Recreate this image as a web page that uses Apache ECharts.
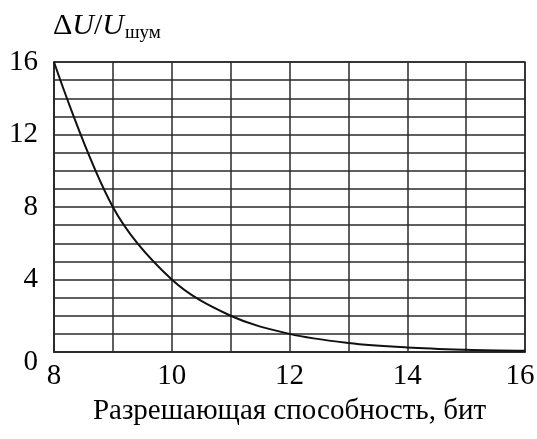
<!DOCTYPE html>
<html lang="ru">
<head>
    <meta charset="UTF-8">
    <title>Chart</title>
    <style>
        html, body { margin: 0; padding: 0; background: #fff; }
        #main { width: 537px; height: 439px; }
    </style>
</head>
<body>
<div id="main"></div>
<script src="https://cdn.jsdelivr.net/npm/echarts@6/dist/echarts.min.js"></script>
<script>
    // разрешающая способность, бит
    var bits = [8, 9, 10, 11, 12, 13, 14, 15, 16];
    // ΔU / U шум
    var ratio = [16, 8, 4, 2, 1, 0.5, 0.25, 0.125, 0.0625];
    var yLabels = [0, 4, 8, 12, 16];
    var xLabels = [8, 10, 12, 14, 16];

    var font = '"Liberation Serif", "Times New Roman", serif';
    var grid = '#2a2a2a';

    var data = bits.map(function (b, i) { return [b, ratio[i]]; });

    var chart = echarts.init(document.getElementById('main'));
    chart.setOption({
        animation: false,
        title: {
            left: 48,
            top: 5,
            text: '{a|Δ}{i|U}{a|/}{i|U}{s|шум}',
            textStyle: {
                fontWeight: 'normal',
                rich: {
                    a: {fontFamily: font, fontSize: 30, fontWeight: 'normal', color: '#000'},
                    i: {fontFamily: font, fontSize: 30, fontStyle: 'italic', fontWeight: 'normal', color: '#000'},
                    s: {fontFamily: font, fontSize: 19, fontWeight: 'normal', color: '#000', padding: [14, 0, 0, 1]}
                }
            }
        },
        grid: {
            left: 54,
            right: 12,
            top: 62,
            bottom: 87,
            outerBoundsMode: 'none',
            show: true,
            borderColor: grid,
            borderWidth: 1.5
        },
        xAxis: {
            type: 'value',
            min: 8,
            max: 16,
            interval: 1,
            name: 'Разрешающая способность, бит',
            nameLocation: 'middle',
            nameGap: 45,
            nameTextStyle: {fontFamily: font, fontSize: 29, color: '#000'},
            axisLine: {lineStyle: {color: grid, width: 1.5}},
            axisTick: {show: false},
            splitLine: {lineStyle: {color: grid, width: 1.5}},
            axisLabel: {
                margin: 10,
                fontFamily: font,
                fontSize: 29,
                color: '#000',
                hideOverlap: false,
                formatter: function (v) {
                    if (v === 16) return '{e|16}';
                    return xLabels.indexOf(v) >= 0 ? String(v) : '';
                },
                rich: {
                    e: {fontFamily: font, fontSize: 29, color: '#000', padding: [0, 10, 0, 0]}
                }
            }
        },
        yAxis: {
            type: 'value',
            min: 0,
            max: 16,
            interval: 1,
            axisLine: {lineStyle: {color: grid, width: 1.5}},
            axisTick: {show: false},
            splitLine: {lineStyle: {color: grid, width: 1.5}},
            axisLabel: {
                margin: 16,
                fontFamily: font,
                fontSize: 29,
                color: '#000',
                formatter: function (v) {
                    if (v === 0) return '{z|0}';
                    return yLabels.indexOf(v) >= 0 ? String(v) : '';
                },
                rich: {
                    z: {fontFamily: font, fontSize: 29, color: '#000', padding: [20, 0, 0, 0]}
                }
            }
        },
        series: [{
            type: 'line',
            data: data,
            smooth: 0.35,
            symbol: 'none',
            lineStyle: {color: '#111', width: 2}
        }]
    });
</script>
</body>
</html>
